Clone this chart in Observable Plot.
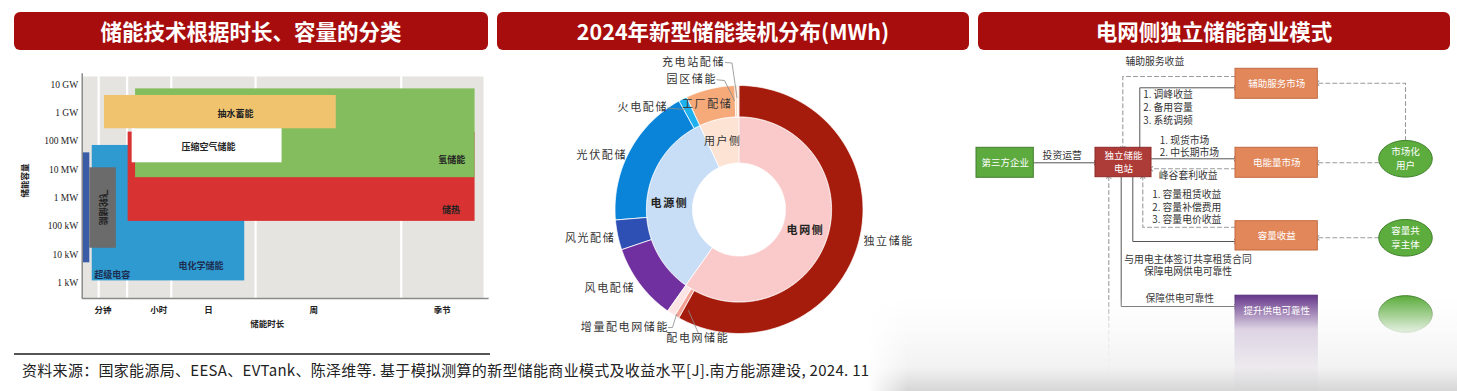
<!DOCTYPE html>
<html><head><meta charset="utf-8">
<script src="https://cdn.jsdelivr.net/npm/d3@7"></script>
<script src="https://cdn.jsdelivr.net/npm/@observablehq/plot@0.6"></script>
<style>
body{margin:0;background:#fff;}
#page{position:relative;width:1457px;height:391px;overflow:hidden;font-family:"Noto Sans CJK SC",sans-serif;background:#fff;}
.bar{position:absolute;top:12px;height:38px;background:#a80d0d;border-radius:6px;color:#fff;font-weight:700;font-size:21.5px;line-height:38px;text-align:center;}
.panel{position:absolute;}
.panel svg{overflow:visible;background:transparent;}
#rule{position:absolute;left:14px;top:353px;width:476px;height:1.5px;background:#555;}
#source{position:absolute;left:22px;top:359px;font-size:15px;line-height:22px;color:#222;white-space:nowrap;letter-spacing:0.3px;}
#fade{position:absolute;left:868px;top:296px;width:589px;height:95px;
 background:linear-gradient(to bottom, rgba(255,255,255,0) 0%, rgba(250,250,250,0.8) 35%, rgba(242,242,242,0.96) 75%, rgba(214,214,214,1) 100%);
 -webkit-mask-image:linear-gradient(to right, transparent 0px, black 40px);mask-image:linear-gradient(to right, transparent 0px, black 40px);}
</style></head>
<body><div id="page">
<div class="bar" style="left:14px;width:474px;">储能技术根据时长、容量的分类</div>
<div class="bar" style="left:497px;width:472px;">2024年新型储能装机分布(MWh)</div>
<div class="bar" style="left:978px;width:472px;">电网侧独立储能商业模式</div>
<div class="panel" id="p1" style="left:0;top:60px;"></div>
<div class="panel" id="p2" style="left:497px;top:52px;"></div>
<div class="panel" id="p3" style="left:970px;top:52px;"></div>
<div id="rule"></div>
<div id="source">资料来源：国家能源局、EESA、EVTank、陈泽维等. 基于模拟测算的新型储能商业模式及收益水平[J].南方能源建设, 2024. 11</div>
<div id="fade"></div>
</div>
<script>
const CJK = '"Noto Sans CJK SC", sans-serif';

// ---------- Panel 1 data: technologies by duration & capacity ----------
const durTickLabels = ["分钟", "小时", "日", "周", "季节"];
const durTickPos = [5.2, 19.1, 31.5, 57.7, 89.7];
const durDividers = [4.1, 11.2, 22.2, 43.2, 79.5];
const capTickValues = [1e3, 1e4, 1e5, 1e6, 1e7, 1e8, 1e9, 1e10];
const capTickLabels = ["1 kW", "10 kW", "100 kW", "1 MW", "10 MW", "100 MW", "1 GW", "10 GW"];
const techNames = ["电化学储能", "超级电容", "飞轮储能", "储热", "氢储能", "抽水蓄能", "压缩空气储能"];
const techDurFrom = [2.5, 0.15, 1.9, 11.45, 13.3, 5.55, 12.45];
const techDurTo = [40.5, 1.9, 8.5, 97.9, 97.9, 63.3, 49.8];
const techCapFrom = [1.2e3, 5.2e3, 1.7e4, 1.5e5, 5.2e6, 2.75e8, 1.74e7];
const techCapTo = [7.1e7, 3.9e7, 1.16e7, 2.1e8, 7.0e9, 4.1e9, 2.75e8];
const techColors = ["#2f9ad0", "#3a5ca6", "#6b6b6b", "#d93232", "#84bd5e", "#f0c46f", "#ffffff"];
const techLabelDur = [29.6, 7.5, 5.2, 91.9, 92.1, 38.2, 31.45];
const techLabelCap = [3.9e3, 1.97e3, 4.75e5, 3.85e5, 2.2e7, 8.8e8, 6.2e7];
const techLabelColors = ["#1d2d50", "#1d2d50", "#222", "#222", "#222", "#222", "#222"];

// ---------- Panel 2 data: 2024 installed new-type storage (share) ----------
const outerNames = ["独立储能", "配电网储能", "增量配电网储能", "风电配储", "风光配储", "光伏配储", "火电配储", "工厂配储", "园区储能", "充电站配储"];
const outerValues = [58.1, 0.6, 1.1, 10.0, 3.9, 18.3, 1.1, 6.4, 0.3, 0.2];
const outerGroups = ["电网侧", "电网侧", "电网侧", "电源侧", "电源侧", "电源侧", "电源侧", "用户侧", "用户侧", "用户侧"];
const outerColors = ["#a51b0c", "#f2a196", "#fde4e4", "#7030a0", "#2e50b5", "#0a84d8", "#1fb0f0", "#f6aa7a", "#fbd3b6", "#fde8da"];
const innerNames = ["电网侧", "电源侧", "用户侧"];
const innerColors = ["#fac9c9", "#c8ddf6", "#fce3d4"];

// ---------- Panel 3 data: business model diagram ----------
const boxNames = ["第三方企业", "独立储能|电站", "辅助服务市场", "电能量市场", "容量收益", "提升供电可靠性"];
const boxFill = ["#5dab3f", "#ad3b38", "#e2875a", "#e2875a", "#e2875a", "#6a3b8c"];
const boxStroke = ["#447d2d", "#8c2a28", "#c36a3f", "#c36a3f", "#c36a3f", "#55307a"];
const userNames = ["市场化|用户", "容量共|享主体", ""];
const flowNotes = ["辅助服务收益", "投资运营", "1. 调峰收益", "2. 备用容量", "3. 系统调频", "1. 现货市场", "2. 中长期市场", "峰谷套利收益",
  "1. 容量租赁收益", "2. 容量补偿费用", "3. 容量电价收益", "与用电主体签订共享租赁合同", "保障电网供电可靠性", "保障供电可靠性"];

// ================= Panel 1 =================
const techs = techNames.map((n, i) => ({name: n, d0: techDurFrom[i], d1: techDurTo[i], c0: techCapFrom[i], c1: techCapTo[i], color: techColors[i],
  lx: techLabelDur[i], ly: techLabelCap[i], lc: techLabelColors[i]}));
const capTicks = capTickValues.map((v, i) => ({v, label: capTickLabels[i]}));
const durTicks = durTickPos.map((p, i) => ({p, label: durTickLabels[i]}));
const yMin = 288, yMax = 1.91e10;
const p1 = Plot.plot({
  width: 490, height: 280, marginLeft: 81.7, marginRight: 7, marginTop: 16, marginBottom: 42,
  x: {domain: [0, 100], axis: null},
  y: {type: "log", domain: [yMin, yMax], axis: null},
  color: {type: "identity"},
  style: {fontFamily: CJK, background: "transparent"},
  marks: [
    Plot.frame({fill: "#e6e4e1", stroke: "none"}),
    Plot.ruleX(durDividers, {stroke: "#ffffff", strokeWidth: 2.2}),
    Plot.rect(techs, {x1: "d0", x2: "d1", y1: "c0", y2: "c1", fill: "color"}),
    Plot.text(techs.filter(d => d.name !== "飞轮储能"), {x: "lx", y: "ly", text: "name", fill: "lc", fontSize: 9, fontWeight: "bold"}),
    Plot.text(techs.filter(d => d.name === "飞轮储能"), {x: "lx", y: "ly", text: "name", fill: "lc", fontSize: 9, fontWeight: "bold", rotate: 90}),
    Plot.ruleX([0], {y1: yMin, y2: yMax * 1.25, stroke: "#8a8a8a", strokeWidth: 1.5}),
    Plot.ruleY([yMin], {x1: 0, x2: 101.4, stroke: "#8a8a8a", strokeWidth: 1.5}),
    Plot.text(capTicks, {x: 0, y: "v", text: "label", textAnchor: "end", dx: -4, fontSize: 9.5, fontFamily: '"Liberation Serif", serif', fill: "#222"}),
    Plot.text(durTicks, {x: "p", y: yMin, text: "label", dy: 12, fontSize: 8.5, fontWeight: "bold", fill: "#222"}),
    Plot.text(["储能时长"], {x: 46.1, y: yMin, text: d => d, dy: 26, fontSize: 8.5, fontWeight: "bold", fill: "#222"}),
    Plot.text(["储能容量"], {x: 0, y: 4.14e6, text: d => d, dx: -56.7, rotate: -90, fontSize: 8.5, fontWeight: "bold", fill: "#222"})
  ]
});
document.getElementById("p1").append(p1);

// ================= Panel 2 =================
const W2 = 472, H2 = 300;
const cx = 241.5, cy = 157, rHole = 46.5, rMid = 92.6, rOut = 124;
function annulus(a0, a1, r0, r1) {
  const pts = [];
  const n = Math.max(2, Math.ceil((a1 - a0) / (Math.PI / 360)));
  for (let i = 0; i <= n; i++) { const a = a0 + (a1 - a0) * i / n; pts.push([cx + r1 * Math.sin(a), cy - r1 * Math.cos(a)]); }
  for (let i = n; i >= 0; i--) { const a = a0 + (a1 - a0) * i / n; pts.push([cx + r0 * Math.sin(a), cy - r0 * Math.cos(a)]); }
  pts.push(pts[0]);
  return pts;
}
const pie = d3.pie().sort(null).value(d => d.value).startAngle(0).endAngle(2 * Math.PI);
const outerData = outerNames.map((n, i) => ({name: n, value: outerValues[i]}));
const innerData = innerNames.map(g => ({name: g, value: d3.sum(outerNames.map((n, i) => outerGroups[i] === g ? outerValues[i] : 0))}));
const features = [
  ...pie(innerData).map(a => ({type: "Feature", properties: {name: a.data.name}, geometry: {type: "Polygon", coordinates: [annulus(a.startAngle, a.endAngle, rHole, rMid)]}})),
  ...pie(outerData).map(a => ({type: "Feature", properties: {name: a.data.name}, geometry: {type: "Polygon", coordinates: [annulus(a.startAngle, a.endAngle, rMid, rOut)]}}))
];
const frameBox = {type: "Polygon", coordinates: [[[0, 0], [W2, 0], [W2, H2], [0, H2], [0, 0]]]};
const leaders = [
  [[228, 10], [234.5, 10.5], [239.5, 45]],
  [[219.5, 27.3], [227, 28], [237, 48]],
  [[170, 55.5], [187, 57]],
  [[171, 275], [175, 275], [179, 262]],
  [[201, 281], [191, 258]]
];
const leaderFeatures = leaders.map(c => ({type: "Feature", properties: {}, geometry: {type: "LineString", coordinates: c}}));
const outerLabelPos = {
  "独立储能": [366, 189, "start"], "风电配储": [137.5, 235.7, "end"], "风光配储": [117.8, 185.7, "end"], "光伏配储": [129.5, 103, "end"],
  "火电配储": [170.5, 54.7, "end"], "工厂配储": [209.7, 52.3, "middle"], "园区储能": [219.5, 27.3, "end"], "充电站配储": [227.5, 10, "end"],
  "增量配电网储能": [171.5, 274.7, "end"], "配电网储能": [200.3, 286.3, "middle"]
};
const outerLabels = outerNames.map(n => ({text: n, x: outerLabelPos[n][0], y: outerLabelPos[n][1], anchor: outerLabelPos[n][2]}));
const innerLabelPos = {"电网侧": [308, 178, "bold"], "电源侧": [172, 151.3, "bold"], "用户侧": [225.3, 88.7, "normal"]};
const innerLabels = innerNames.map(n => ({text: n, x: innerLabelPos[n][0], y: innerLabelPos[n][1], w: innerLabelPos[n][2]}));
const p2 = Plot.plot({
  width: W2, height: H2, margin: 0,
  projection: {type: "identity", domain: frameBox},
  color: {domain: [...outerNames, ...innerNames], range: [...outerColors, ...innerColors]},
  style: {fontFamily: CJK, background: "transparent", letterSpacing: "1.6px"},
  marks: [
    Plot.geo(features, {fill: d => d.properties.name, stroke: "#ffffff", strokeWidth: 0.8}),
    Plot.geo(leaderFeatures, {fill: "none", stroke: "#8a8a8a", strokeWidth: 0.8}),
    Plot.text(outerLabels.filter(d => d.anchor === "start"), {x: "x", y: "y", text: "text", textAnchor: "start", fontSize: 11, fill: "#333"}),
    Plot.text(outerLabels.filter(d => d.anchor === "end"), {x: "x", y: "y", text: "text", textAnchor: "end", fontSize: 11, fill: "#333"}),
    Plot.text(outerLabels.filter(d => d.anchor === "middle"), {x: "x", y: "y", text: "text", fontSize: 11, fill: "#333"}),
    Plot.text(innerLabels.filter(d => d.w === "bold"), {x: "x", y: "y", text: "text", fontSize: 11, fontWeight: "bold", fill: "#222"}),
    Plot.text(innerLabels.filter(d => d.w !== "bold"), {x: "x", y: "y", text: "text", fontSize: 11, fill: "#333"})
  ]
});
document.getElementById("p2").append(p2);

// ================= Panel 3 =================
const W3 = 487, H3 = 339;
const boxPos = [[6, 63.3, 95.3, 125.3], [125, 181, 95.3, 124.7], [265, 347.3, 16.3, 46.3], [265, 347.3, 95.3, 125.3], [265, 347.3, 168.7, 198], [265, 347.3, 243.2, 339]];
const boxes = boxNames.map((n, i) => ({name: n, x1: boxPos[i][0], x2: boxPos[i][1], y1: boxPos[i][2], y2: boxPos[i][3], fill: boxFill[i], stroke: boxStroke[i],
  tx: (boxPos[i][0] + boxPos[i][1]) / 2, ty: i === 5 ? 258.5 : (boxPos[i][2] + boxPos[i][3]) / 2}));
// split two-line names into separate lines placed above/below the centre
const splitLines = (rows, gap) => rows.flatMap(d => {
  const parts = d.name.split("|");
  return parts.map((t, j) => ({text: t, x: d.tx ?? d.x, y: (d.ty ?? d.y) + (j - (parts.length - 1) / 2) * gap}));
});
const userPos = [[435, 106.3], [435, 185.3], [435, 261.5]];
const users = userNames.map((n, i) => ({name: n, x: userPos[i][0], y: userPos[i][1]}));
const ellipse = {draw(ctx, size) {
  const r = Math.sqrt(size / Math.PI), rx = r * 1.46, ry = r, k = 0.5523;
  ctx.moveTo(rx, 0);
  ctx.bezierCurveTo(rx, k * ry, k * rx, ry, 0, ry);
  ctx.bezierCurveTo(-k * rx, ry, -rx, k * ry, -rx, 0);
  ctx.bezierCurveTo(-rx, -k * ry, -k * rx, -ry, 0, -ry);
  ctx.bezierCurveTo(k * rx, -ry, rx, -k * ry, rx, 0);
  ctx.closePath();
}};
const solidEdges = [
  [[63.3, 110.3], [125, 110.3]],
  [[169.3, 95.3], [169.3, 35.3], [265, 35.3]],
  [[181, 106.3], [265, 106.3]],
  [[162.3, 124.7], [162.3, 189], [265, 189]],
  [[150.7, 124.7], [150.7, 254], [265, 254]]
];
const dashedEdges = [
  [[265, 24], [152.3, 24], [152.3, 95.3]],
  [[265, 116.3], [181, 116.3]],
  [[265, 174.7], [172.3, 174.7], [172.3, 124.7]],
  [[138.3, 345], [138.3, 124.7]],
  [[435, 88], [435, 30.7], [347.3, 30.7]],
  [[408.3, 110.3], [347.3, 110.3]],
  [[408.3, 185.3], [347.3, 185.3]]
];
const toRows = edges => edges.flatMap((e, id) => e.map(([x, y]) => ({id, x, y})));
const notePos = [[184.3, 9.7, "middle"], [91.7, 103.7, "middle"], [172.7, 42.3, "start"], [172.7, 55.3, "start"], [172.7, 68, "start"],
  [189.3, 88.7, "start"], [189.3, 100.7, "start"], [188.3, 123.7, "start"], [181.7, 142.3, "start"], [181.7, 155, "start"], [181.7, 167.7, "start"],
  [217.5, 207.3, "middle"], [217.5, 219.3, "middle"], [209.3, 246.3, "middle"]];
const notes = flowNotes.map((t, i) => ({text: t, x: notePos[i][0], y: notePos[i][1], anchor: notePos[i][2]}));
const p3 = Plot.plot({
  width: W3, height: H3, margin: 0,
  x: {domain: [0, W3], range: [0, W3], axis: null},
  y: {domain: [0, H3], range: [0, H3], axis: null},
  color: {type: "identity"},
  style: {fontFamily: CJK, background: "transparent"},
  marks: [
    Plot.line(toRows(dashedEdges), {x: "x", y: "y", z: "id", stroke: "#9a9a9a", strokeWidth: 1.1, strokeDasharray: "4,3", markerEnd: "arrow"}),
    Plot.line(toRows(solidEdges), {x: "x", y: "y", z: "id", stroke: "#555555", strokeWidth: 1, markerEnd: "arrow"}),
    Plot.rect(boxes, {x1: "x1", x2: "x2", y1: "y1", y2: "y2", fill: "fill", stroke: "stroke", strokeWidth: 1}),
    Plot.dot(users, {x: "x", y: "y", r: 18.3, symbol: ellipse, fill: "#5cad3d", stroke: "#3f7f2a", strokeWidth: 1}),
    Plot.text(splitLines(boxes, 13.8), {x: "x", y: "y", text: "text", fill: "#ffffff", fontSize: 9.5}),
    Plot.text(splitLines(users, 13.8), {x: "x", y: "y", text: "text", fill: "#ffffff", fontSize: 9.5}),
    Plot.text(notes.filter(d => d.anchor === "start"), {x: "x", y: "y", text: "text", textAnchor: "start", fontSize: 9.8, fill: "#333"}),
    Plot.text(notes.filter(d => d.anchor === "middle"), {x: "x", y: "y", text: "text", fontSize: 9.8, fill: "#333"})
  ]
});
document.getElementById("p3").append(p3);
</script>
</body></html>
